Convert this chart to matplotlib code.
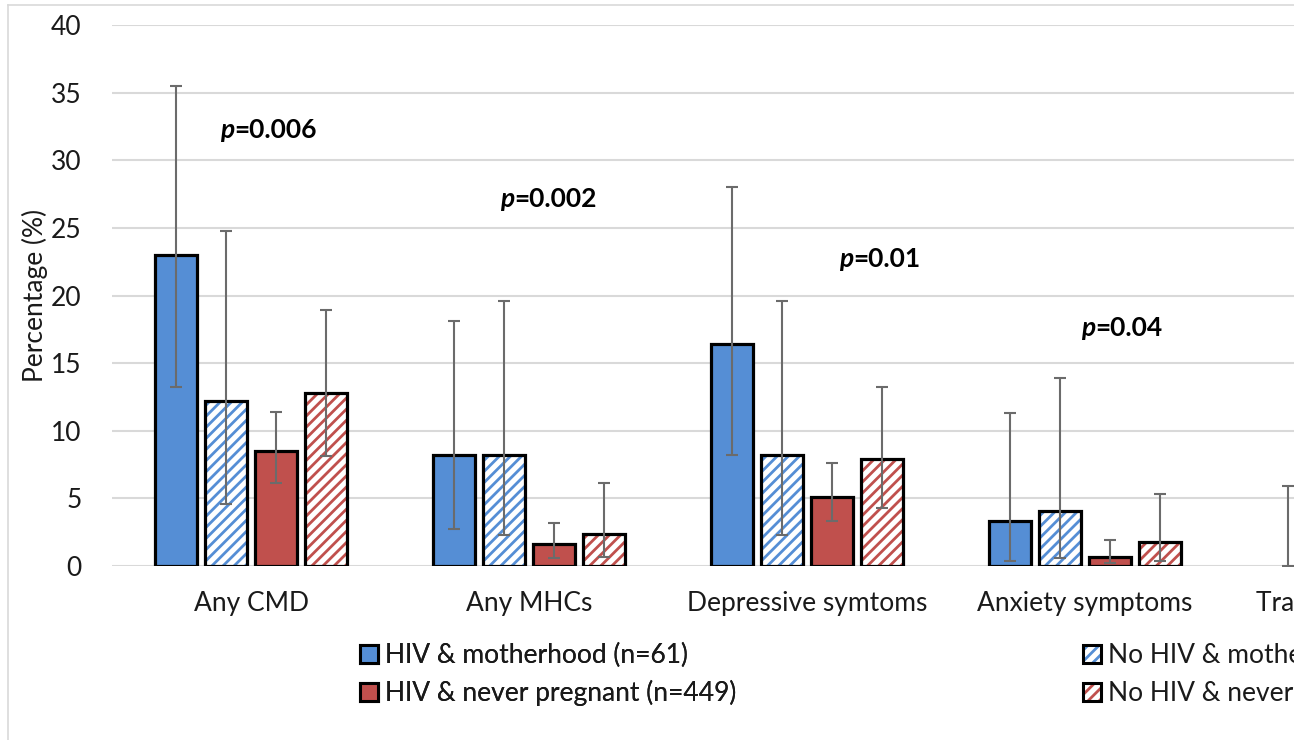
import numpy as np
import matplotlib
matplotlib.use("Agg")
import matplotlib.pyplot as plt
from matplotlib.patches import Patch
from matplotlib.lines import Line2D
from matplotlib.legend_handler import HandlerTuple

plt.rcParams["font.family"] = ["Lato", "DejaVu Sans"]
plt.rcParams["hatch.linewidth"] = 2.0

categories = ["Any CMD", "Any MHCs", "Depressive symtoms", "Anxiety symptoms", "Trauma symptoms"]
series_labels = [
    "HIV & motherhood (n=61)",
    "No HIV & motherhood (n=98)",
    "HIV & never pregnant (n=449)",
    "No HIV & never pregnant (n=1038)",
]

nan = np.nan
hiv_mother = [23.0, 8.2, 16.4, 3.3, 0.0]
hiv_mother_lo = [13.2, 2.7, 8.2, 0.4, 0.0]
hiv_mother_hi = [35.5, 18.1, 28.0, 11.3, 5.9]

nohiv_mother = [12.2, 8.2, 8.2, 4.1, nan]
nohiv_mother_lo = [4.6, 2.3, 2.3, 0.6, nan]
nohiv_mother_hi = [24.8, 19.6, 19.6, 13.9, nan]

hiv_never = [8.5, 1.6, 5.1, 0.7, nan]
hiv_never_lo = [6.1, 0.6, 3.3, 0.2, nan]
hiv_never_hi = [11.4, 3.2, 7.6, 1.9, nan]

nohiv_never = [12.8, 2.4, 7.9, 1.8, nan]
nohiv_never_lo = [8.1, 0.7, 4.3, 0.4, nan]
nohiv_never_hi = [18.9, 6.1, 13.2, 5.3, nan]

p_labels = ["=0.006", "=0.002", "=0.01", "=0.04"]
p_x = [-0.11, 0.895, 2.115, 2.987]
p_y = [32.2, 27.1, 22.7, 17.6]

BLUE = "#558ED5"
RED = "#C0504D"
GRID = "#D9D9D9"
ERR = "#6B6B6B"
TXT = "#1A1A1A"
FS = 19

W, H = 1294, 740
fig = plt.figure(figsize=(W / 100, H / 100), dpi=100)
ax = fig.add_axes([112 / W, (740 - 566) / H, 1390 / W, (566 - 25) / H])
ax.set_xlim(-0.5, len(categories) - 0.5)
ax.set_ylim(0, 40)

x = np.arange(len(categories))
step = 0.18
bw = 0.151
series = [
    (hiv_mother, hiv_mother_lo, hiv_mother_hi, BLUE, False),
    (nohiv_mother, nohiv_mother_lo, nohiv_mother_hi, BLUE, True),
    (hiv_never, hiv_never_lo, hiv_never_hi, RED, False),
    (nohiv_never, nohiv_never_lo, nohiv_never_hi, RED, True),
]
handles = []
for i, (vals, lo, hi, col, hatched) in enumerate(series):
    vals = np.array(vals, dtype=float)
    lo = np.array(lo, dtype=float)
    hi = np.array(hi, dtype=float)
    xs = x + (i - 1.5) * step
    ok = ~np.isnan(vals)
    lws = [2.3 if v > 0 else 0 for v in vals[ok]]
    if hatched:
        ax.bar(xs[ok], vals[ok], bw, facecolor="white", edgecolor=col,
               hatch="///", linewidth=0, zorder=2)
        ax.bar(xs[ok], vals[ok], bw, facecolor="none", edgecolor="black",
               linewidth=lws, zorder=3)
        h = (Patch(facecolor="white", edgecolor=col, hatch="///", linewidth=0),
             Patch(facecolor="none", edgecolor="black", linewidth=2.2))
    else:
        ax.bar(xs[ok], vals[ok], bw, facecolor=col, edgecolor="black",
               linewidth=lws, zorder=3)
        h = Patch(facecolor=col, edgecolor="black", linewidth=2.2)
    handles.append(h)
    eok = ~np.isnan(hi)
    ax.errorbar(xs[eok], vals[eok],
                yerr=[vals[eok] - lo[eok], hi[eok] - vals[eok]],
                fmt="none", ecolor=ERR, elinewidth=1.5, capsize=4.5,
                capthick=1.5, zorder=4)

# p-value annotations: italic "p" followed by the value
for px, py, lab in zip(p_x, p_y, p_labels):
    t = ax.text(px, py, "p", fontsize=FS, fontweight="bold", fontstyle="italic",
                ha="left", va="center", color="black", zorder=5)
    ax.annotate(lab, xy=(1, 0), xycoords=t, ha="left", va="bottom",
                fontsize=FS, fontweight="bold", color="black", zorder=5)

ax.set_yticks(np.arange(0, 41, 5))
ax.set_xticks(x)
ax.set_xticklabels(categories)
ax.tick_params(axis="both", length=0, labelsize=FS, colors=TXT)
ax.tick_params(axis="y", pad=22)
ax.tick_params(axis="x", pad=18)
ax.yaxis.grid(True, color=GRID, linewidth=1.5, zorder=0)
ax.set_axisbelow(True)
for s in ax.spines.values():
    s.set_visible(False)
ax.set_ylabel("Percentage (%)", fontsize=FS, color=TXT, labelpad=2)

# chart area frame
fig.add_artist(Line2D([8 / W, 8 / W], [0, 1 - 5 / H], color=GRID, linewidth=1.2))
fig.add_artist(Line2D([8 / W, 1], [1 - 5 / H, 1 - 5 / H], color=GRID, linewidth=1.2))

common = dict(frameon=False, fontsize=FS, handlelength=0.68, handleheight=0.68,
              handletextpad=0.25, labelspacing=0.44, borderpad=0, borderaxespad=0,
              handler_map={tuple: HandlerTuple(ndivide=1, pad=0)},
              labelcolor=TXT, loc="upper left")
leg1 = fig.legend([handles[0], handles[2]], [series_labels[0], series_labels[2]],
                  bbox_to_anchor=(360 / W, 1 - 643 / H), **common)
fig.add_artist(leg1)
fig.legend([handles[1], handles[3]], [series_labels[1], series_labels[3]],
           bbox_to_anchor=(1083 / W, 1 - 643 / H), **common)

fig.savefig("out.png", dpi=100)
